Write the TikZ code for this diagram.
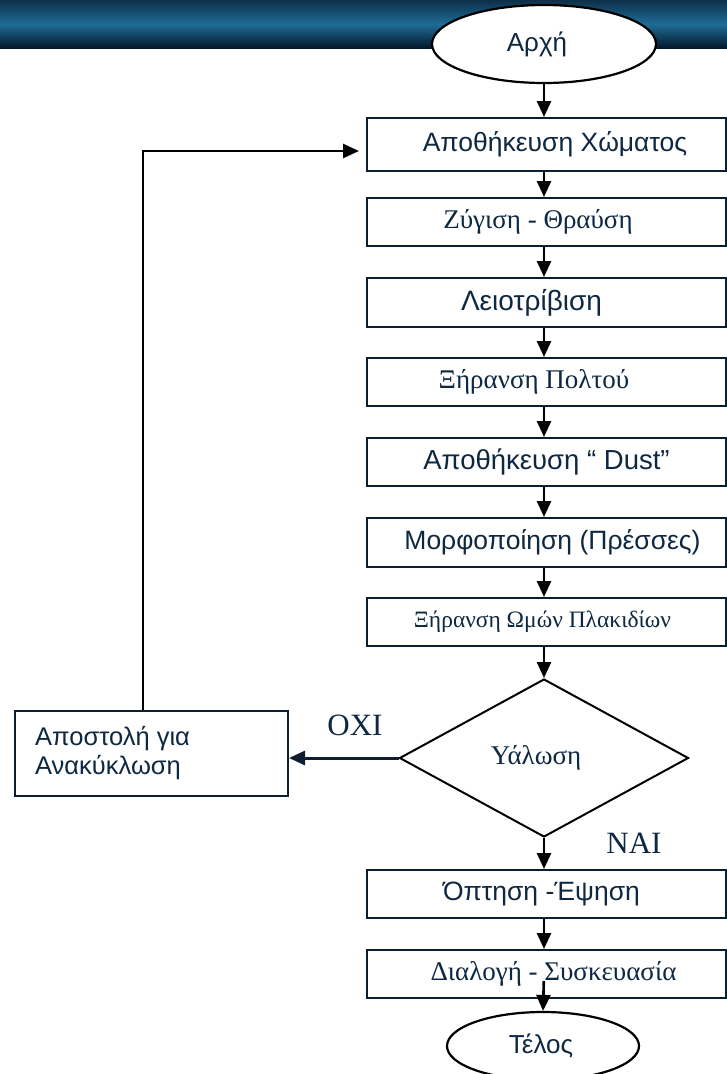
\documentclass[tikz,border=0pt]{standalone}
\usepackage{fontspec}
\setmainfont{Liberation Serif}
\newfontfamily\sansgr{Liberation Sans}
\usetikzlibrary{shapes.geometric,arrows.meta}
\definecolor{txt}{RGB}{14,40,66}
\definecolor{edge}{RGB}{12,30,50}
\definecolor{bartop}{RGB}{14,48,74}
\definecolor{barmid}{RGB}{30,108,150}
\definecolor{barbot}{RGB}{4,24,42}
\newcommand{\sz}[1]{\fontsize{#1}{#1}\selectfont}
\tikzset{
  stepbox/.style={draw=edge, line width=2pt, rectangle, minimum width=359pt, inner sep=0pt, text=txt, fill=white},
  sansbox/.style={stepbox, font=\sansgr\sz{26.5}},
  serifbox/.style={stepbox, font=\sz{27}},
  termnode/.style={draw=black, line width=2.2pt, ellipse, inner sep=0pt, fill=white, text=txt, font=\sansgr\sz{26}},
  arr/.style={line width=2.6pt, -{Triangle[length=16pt,width=14pt]}},
  lbl/.style={text=txt, font=\sz{31}, inner sep=0pt}
}
\begin{document}
\begin{tikzpicture}[x=1pt,y=-1pt]
\useasboundingbox (0,0) rectangle (727,1074);
% top bar
\shade[top color=bartop, bottom color=barbot, middle color=barmid] (0,0) rectangle (727,48);
\coordinate (cx) at (544,0);
\node[termnode, minimum width=224pt, minimum height=78pt] (start) at (544,44) {\hspace*{-14pt}Αρχή};
\node[sansbox, minimum height=53pt] (b1) at (546.5,144.5) {\hspace*{17pt}Αποθήκευση Χώματος};
\node[serifbox, minimum height=48pt] (b2) at (546.5,222) {\hspace*{-17pt}Ζύγιση - Θραύση};
\node[sansbox, minimum height=49pt, font=\sansgr\sz{28}] (b3) at (546.5,302.5) {\hspace*{-30pt}Λειοτρίβιση};
\node[serifbox, minimum height=48pt] (b4) at (546.5,382) {\hspace*{-25pt}Ξήρανση Πολτού};
\node[sansbox, minimum height=48pt, font=\sansgr\sz{27.5}] (b5) at (546.5,462) {Αποθήκευση “ Dust”};
\node[sansbox, minimum height=49pt] (b6) at (546.5,542.5) {\hspace*{12pt}Μορφοποίηση (Πρέσσες)};
\node[serifbox, minimum height=48pt, font=\sz{23.5}] (b7) at (546.5,622) {\hspace*{-8pt}Ξήρανση Ωμών Πλακιδίων};
\node[draw=black, line width=2pt, diamond, minimum width=289pt, minimum height=158pt, inner sep=0pt, text=txt, font=\sz{27}, fill=white] (dec) at (544,758) {\hspace*{-16pt}Υάλωση};
\node[draw=edge, line width=2pt, rectangle, minimum width=273pt, minimum height=85pt, inner sep=0pt, fill=white] (rec) at (151.5,753.5) {};
\node[text=txt, font=\sansgr\sz{25.5}, align=left, anchor=west, inner sep=0pt] (rectxt) at (35,753) {Αποστολή για\\[4pt]Ανακύκλωση};
\node[sansbox, minimum height=48pt] (b8) at (546.5,894) {\hspace*{-10pt}Όπτηση -Έψηση};
\node[serifbox, minimum height=48pt] (b9) at (546.5,974) {\hspace*{14pt}Διαλογή - Συσκευασία};
\node[termnode, minimum width=192pt, minimum height=68pt] (end) at (543,1046) {\hspace*{-4pt}Τέλος};
\node[lbl] (oxi) at (355,725) {ΟΧΙ};
\node[lbl] (nai) at (634,843) {ΝΑΙ};
% connectors
\draw[arr] (start.south -| cx) -- (b1.north -| cx);
\draw[arr] (b1.south -| cx) -- (b2.north -| cx);
\draw[arr] (b2.south -| cx) -- (b3.north -| cx);
\draw[arr] (b3.south -| cx) -- (b4.north -| cx);
\draw[arr] (b4.south -| cx) -- (b5.north -| cx);
\draw[arr] (b5.south -| cx) -- (b6.north -| cx);
\draw[arr] (b6.south -| cx) -- (b7.north -| cx);
\draw[arr] (b7.south -| cx) -- (dec.north);
\draw[arr] (dec.south) -- (b8.north -| cx);
\draw[arr] (b8.south -| cx) -- (b9.north -| cx);
\draw[arr, shorten <=7pt] (b9.center -| cx) -- (end.north);
\draw[arr, draw=edge, line width=3pt] (dec.west) -- (rec.east |- dec.west);
\coordinate (fb) at (143,151);
\draw[arr, shorten >=7pt] (rec.north -| fb) -- (fb) -- (b1.west |- fb);
\end{tikzpicture}
\end{document}
